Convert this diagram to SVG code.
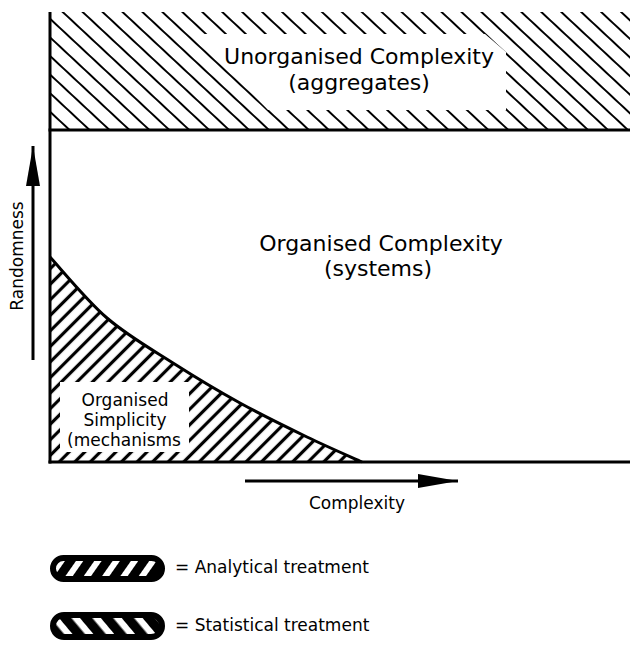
<svg xmlns="http://www.w3.org/2000/svg" width="630" height="646" viewBox="0 0 630 646">
<style>
text{font-family:"DejaVu Sans","Verdana",sans-serif;fill:#000}
.big{font-size:22px}
.mid{font-size:17px}
.ax{stroke:#000;stroke-width:3;fill:none}
</style>
<defs>
<pattern id="hs" patternUnits="userSpaceOnUse" width="13.6" height="20" patternTransform="rotate(-47)">
<line x1="6.8" y1="-1" x2="6.8" y2="21" stroke="#000" stroke-width="2"/>
</pattern>
<pattern id="ha" patternUnits="userSpaceOnUse" width="11" height="20" patternTransform="rotate(45)">
<line x1="5.5" y1="-1" x2="5.5" y2="21" stroke="#000" stroke-width="3.2"/>
</pattern>
<pattern id="pa" patternUnits="userSpaceOnUse" width="15" height="20" patternTransform="rotate(35)">
<rect x="0" y="0" width="9" height="20" fill="#000"/>
</pattern>
<pattern id="ps" patternUnits="userSpaceOnUse" width="16" height="20" patternTransform="rotate(-40)">
<rect x="0" y="0" width="9.5" height="20" fill="#000"/>
</pattern>
<clipPath id="lowclip">
<path d="M50,257 C59.5,267.2 86.5,300.3 107,318 C127.5,335.7 150.8,348.8 173,363 C195.2,377.2 217.7,390.7 240,403 C262.3,415.3 286.7,427.2 307,437 C327.3,446.8 352.8,457.8 362,462 L50,462 Z"/>
</clipPath>
<marker id="ah" viewBox="0 0 40 14" refX="40" refY="7" markerWidth="40" markerHeight="14" markerUnits="userSpaceOnUse" orient="auto">
<path d="M0,0 L40,7 L0,14 Z" fill="#000"/>
</marker>
</defs>
<rect width="630" height="646" fill="#fff"/>

<g id="unorganised-complexity">
<rect x="50" y="12" width="580" height="118" fill="url(#hs)"/>
<polygon points="195,34 485,34 506,52 506,110 268,110" fill="#fff"/>
<text class="big" x="359" y="64" text-anchor="middle">Unorganised Complexity</text>
<text class="big" x="359" y="90" text-anchor="middle">(aggregates)</text>
</g>

<g id="organised-complexity">
<text class="big" x="381" y="251" text-anchor="middle">Organised Complexity</text>
<text class="big" x="378" y="276" text-anchor="middle">(systems)</text>
</g>

<g id="organised-simplicity">
<rect x="50" y="250" width="320" height="215" fill="url(#ha)" clip-path="url(#lowclip)"/>
<polygon points="60,382 189,382 189,452 60,452" fill="#fff"/>
<path class="ax" stroke-width="3.5" d="M50,257 C59.5,267.2 86.5,300.3 107,318 C127.5,335.7 150.8,348.8 173,363 C195.2,377.2 217.7,390.7 240,403 C262.3,415.3 286.7,427.2 307,437 C327.3,446.8 352.8,457.8 362,462"/>
<text class="mid" x="125" y="406" text-anchor="middle">Organised</text>
<text class="mid" x="125" y="426" text-anchor="middle">Simplicity</text>
<text class="mid" x="124" y="446" text-anchor="middle">(mechanisms</text>
</g>

<g id="frame">
<line class="ax" x1="50" y1="12" x2="50" y2="463.5"/>
<line class="ax" x1="48.5" y1="130" x2="630" y2="130"/>
<line class="ax" x1="48.5" y1="462" x2="630" y2="462"/>
</g>

<g id="connectors">
<line x1="33" y1="360" x2="33" y2="146" stroke="#000" stroke-width="3" marker-end="url(#ah)"/>
<line x1="245" y1="481" x2="458" y2="481" stroke="#000" stroke-width="3" marker-end="url(#ah)"/>
</g>

<g id="axis-labels">
<text class="mid" x="0" y="0" text-anchor="middle" transform="translate(23,256) rotate(-90)">Randomness</text>
<text class="mid" x="357" y="509" text-anchor="middle">Complexity</text>
</g>

<g id="legend-analytical">
<rect x="53" y="558" width="109" height="21" rx="10.5" fill="url(#pa)" stroke="#000" stroke-width="6"/>
<text class="mid" x="175" y="573">= Analytical treatment</text>
</g>
<g id="legend-statistical">
<rect x="53" y="615" width="109" height="22" rx="11" fill="url(#ps)" stroke="#000" stroke-width="6"/>
<text class="mid" x="175" y="631">= Statistical treatment</text>
</g>
</svg>
